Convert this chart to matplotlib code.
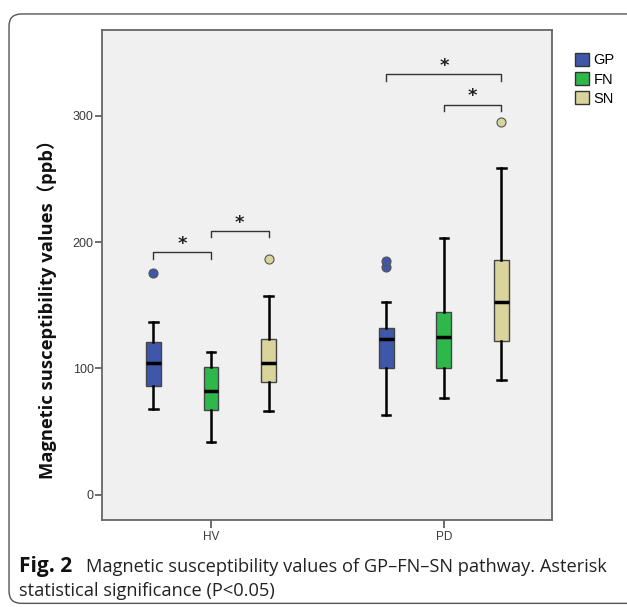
import matplotlib
matplotlib.use("Agg")
import matplotlib.pyplot as plt
from matplotlib.patches import Patch, FancyBboxPatch

# data (ppb)
groups = ["HV", "PD"]
regions = ["GP", "FN", "SN"]
colors = ["#3f57a8", "#2eb84c", "#d8d49c"]

whislo = {"HV": [68, 42, 66], "PD": [63, 77, 91]}
q1 = {"HV": [86, 67, 89], "PD": [100, 100, 122]}
med = {"HV": [104, 82, 104], "PD": [123, 125, 153]}
q3 = {"HV": [121, 101, 123], "PD": [132, 145, 186]}
whishi = {"HV": [137, 113, 157], "PD": [153, 203, 259]}
fliers = {"HV": [[176], [], [187]], "PD": [[180, 185], [], [295]]}

# significance brackets: (group, from region, to region, height)
brackets = [("HV", 0, 1, 192), ("HV", 1, 2, 209),
            ("PD", 0, 2, 333), ("PD", 1, 2, 309)]

offset = 0.247
width = 0.064

fig = plt.figure(figsize=(6.27, 6.07), dpi=100)
ax = fig.add_axes([0.1627, 0.1433, 0.7177, 0.8072])
ax.set_facecolor("#f0f0f0")

for gi, g in enumerate(groups):
    for ri in range(len(regions)):
        st = dict(med=med[g][ri], q1=q1[g][ri], q3=q3[g][ri],
                  whislo=whislo[g][ri], whishi=whishi[g][ri],
                  fliers=fliers[g][ri])
        ax.bxp([st], positions=[gi + (ri - 1) * offset], widths=width,
               patch_artist=True, manage_ticks=False,
               boxprops=dict(facecolor=colors[ri], edgecolor="#444444", lw=1),
               medianprops=dict(color="black", lw=2.5),
               whiskerprops=dict(color="black", lw=1.8),
               capprops=dict(color="black", lw=1.8),
               capwidths=0.035,
               flierprops=dict(marker="o", markersize=6.5,
                               markerfacecolor=colors[ri],
                               markeredgecolor="#555555", markeredgewidth=0.8))

for g, a, b, h in brackets:
    gi = groups.index(g)
    xa = gi + (a - 1) * offset
    xb = gi + (b - 1) * offset
    ax.plot([xa, xa, xb, xb], [h - 5, h, h, h - 5], color="#333333", lw=1)
    ax.text((xa + xb) / 2, h + 6.5, "*", ha="center", va="center",
            fontsize=13, fontweight="bold", color="#222222")

ax.set_xlim(-0.468, 1.464)
ax.set_ylim(-20, 368)
ax.set_yticks([0, 100, 200, 300])
ax.set_xticks([0, 1])
ax.set_xticklabels(groups)
ax.tick_params(axis="y", length=5, width=1.2, color="#555555",
               labelsize=9, labelcolor="#3a3a3a", pad=1)
ax.tick_params(axis="x", length=6, width=1.2, color="#555555",
               labelsize=8.5, labelcolor="#3a3a3a", pad=2)
for lab in ax.get_xticklabels() + ax.get_yticklabels():
    lab.set_family("Liberation Sans")
for sp in ax.spines.values():
    sp.set_color("#666666")
    sp.set_linewidth(1.3)

fig.text(0.075, 0.4975, "Magnetic susceptibility values（ppb）", rotation=90,
         ha="center", va="center", fontsize=13.2, fontweight="bold",
         family=["Open Sans", "Noto Sans CJK SC"], color="#111111")

handles = [Patch(facecolor=c, edgecolor="#333333", lw=1) for c in colors]
fig.legend(handles, regions, loc="upper left", bbox_to_anchor=(0.905, 0.925),
           frameon=False, handlelength=1.0, handleheight=1.0,
           handletextpad=0.3, labelspacing=0.32, borderpad=0,
           prop={"family": "Liberation Sans", "size": 10.5})

cap_font = ["Open Sans"]
fig.text(0.031, 0.058, "Fig. 2", fontsize=15, fontweight="bold",
         family=cap_font, color="#111111", va="baseline")
fig.text(0.137, 0.058, "Magnetic susceptibility values of GP–FN–SN pathway. Asterisk",
         fontsize=13.15, family=cap_font, color="#222222", va="baseline")
fig.text(0.031, 0.018, "statistical significance (P<0.05)",
         fontsize=13.15, family=cap_font, color="#222222", va="baseline")

frame = FancyBboxPatch((0.0144, 0.006), 1.3, 0.971, transform=fig.transFigure,
                       boxstyle="round,pad=0,rounding_size=0.02",
                       facecolor="none", edgecolor="#555555", lw=1)
fig.patches.append(frame)

fig.savefig("out.png", dpi=100)
